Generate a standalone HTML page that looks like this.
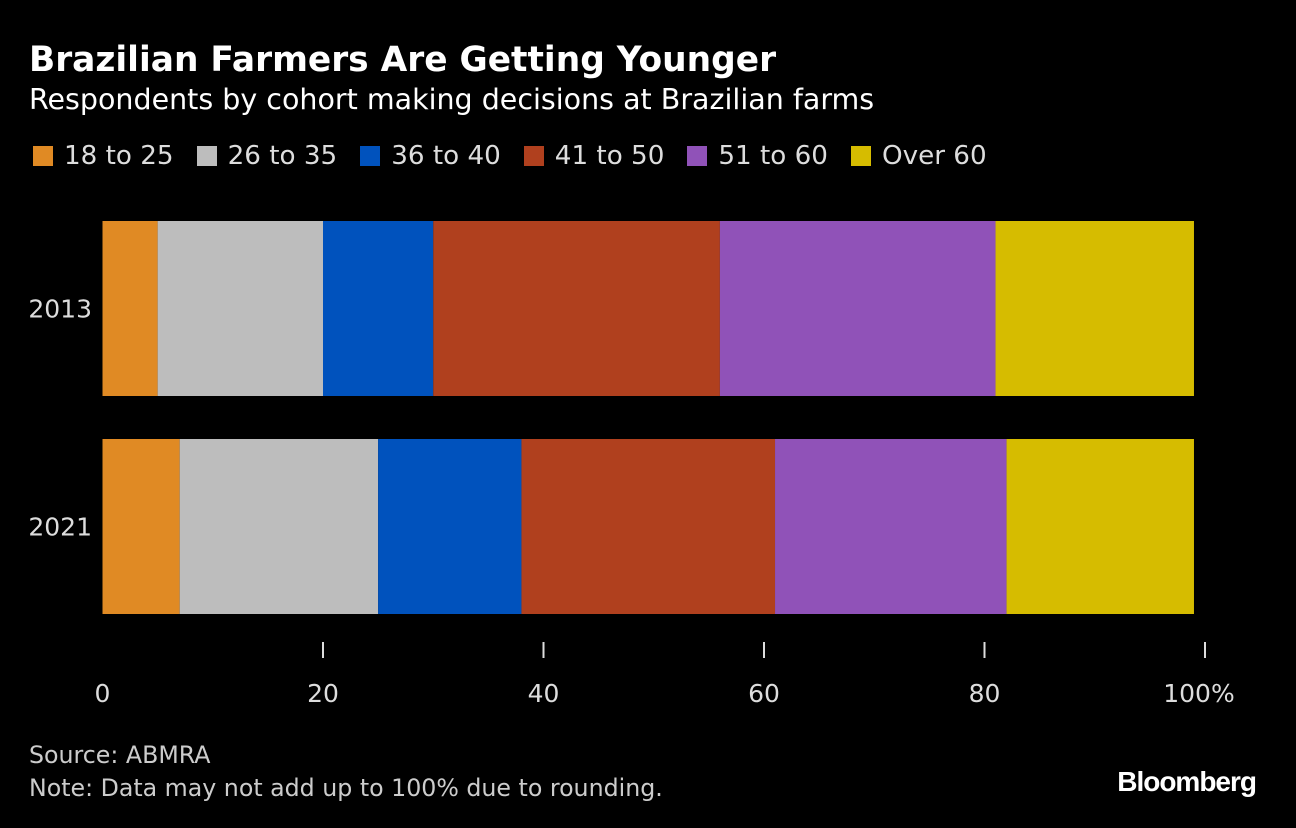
<!DOCTYPE html>
<html><head><meta charset="utf-8">
<style>
html,body{margin:0;padding:0;background:#000;}
body{width:1296px;height:828px;position:relative;overflow:hidden;font-family:"DejaVu Sans","Liberation Sans",sans-serif;color:#fff;}
#title{position:absolute;left:29px;top:40px;font-size:34.4px;font-weight:bold;}
#subtitle{position:absolute;left:29px;top:83px;font-size:28.5px;color:#fff;}
#legend{position:absolute;left:33px;top:141px;font-size:26.2px;color:#ddd;display:flex;}
.le{display:flex;align-items:center;margin-right:23px;}
.sw{width:20px;height:20px;margin-right:11px;}
#source{position:absolute;left:29px;top:739px;font-size:23.7px;color:#ccc;line-height:33px;}
#logo{position:absolute;right:40px;top:766px;font-size:28px;font-weight:bold;letter-spacing:-1px;font-family:"Liberation Sans",sans-serif;}
svg{position:absolute;left:0;top:0;}
</style></head><body>
<div id="title">Brazilian Farmers Are Getting Younger</div>
<div id="subtitle">Respondents by cohort making decisions at Brazilian farms</div>
<div id="legend"></div>
<svg id="chart" width="1296" height="828"></svg>
<div id="source">Source: ABMRA<br>Note: Data may not add up to 100% due to rounding.</div>
<div id="logo">Bloomberg</div>
<script>
const categories = ["2013", "2021"];
const series = ["18 to 25", "26 to 35", "36 to 40", "41 to 50", "51 to 60", "Over 60"];
const colors = ["#e08a24", "#bdbdbd", "#0052bd", "#b0401e", "#9052b8", "#d6bc00"];
const values2013 = [5, 15, 10, 26, 25, 18];
const values2021 = [7, 18, 13, 23, 21, 17];
const values = [values2013, values2021];
const ticks = [0, 20, 40, 60, 80, 100];
const tickLabels = ["0", "20", "40", "60", "80", "100%"];

const NS = "http://www.w3.org/2000/svg";
const svg = document.getElementById("chart");
const x = v => 102.5 + v * 11.025;
const barTop = [221, 439], barH = 175;

const leg = document.getElementById("legend");
series.forEach((s, i) => {
  const d = document.createElement("div");
  d.className = "le";
  
  
  d.innerHTML = '<div class="sw" style="background:' + colors[i] + '"></div>' + s;
  leg.appendChild(d);
});

categories.forEach((c, ci) => {
  let acc = 0;
  values[ci].forEach((v, si) => {
    const r = document.createElementNS(NS, "rect");
    r.setAttribute("x", x(acc));
    r.setAttribute("y", barTop[ci]);
    r.setAttribute("width", x(acc + v) - x(acc));
    r.setAttribute("height", barH);
    r.setAttribute("fill", colors[si]);
    
    
    svg.appendChild(r);
    acc += v;
  });
  const t = document.createElementNS(NS, "text");
  t.setAttribute("x", 92);
  t.setAttribute("y", barTop[ci] + barH / 2 + 9);
  t.setAttribute("text-anchor", "end");
  t.setAttribute("fill", "#ddd");
  t.setAttribute("font-size", "25");
  t.textContent = c;
  
  
  svg.appendChild(t);
});

ticks.forEach((tv, i) => {
  if (tv > 0) {
    const l = document.createElementNS(NS, "line");
    l.setAttribute("x1", x(tv)); l.setAttribute("x2", x(tv));
    l.setAttribute("y1", 642); l.setAttribute("y2", 658);
    l.setAttribute("stroke", "#ddd"); l.setAttribute("stroke-width", "2");
    
    
    svg.appendChild(l);
  }
  const t = document.createElementNS(NS, "text");
  t.setAttribute("x", x(tv) + (tv === 100 ? -6 : 0));
  t.setAttribute("y", 702);
  t.setAttribute("text-anchor", "middle");
  t.setAttribute("fill", "#ddd");
  t.setAttribute("font-size", "25");
  t.textContent = tickLabels[i];
  
  
  svg.appendChild(t);
});
</script>
</body></html>
